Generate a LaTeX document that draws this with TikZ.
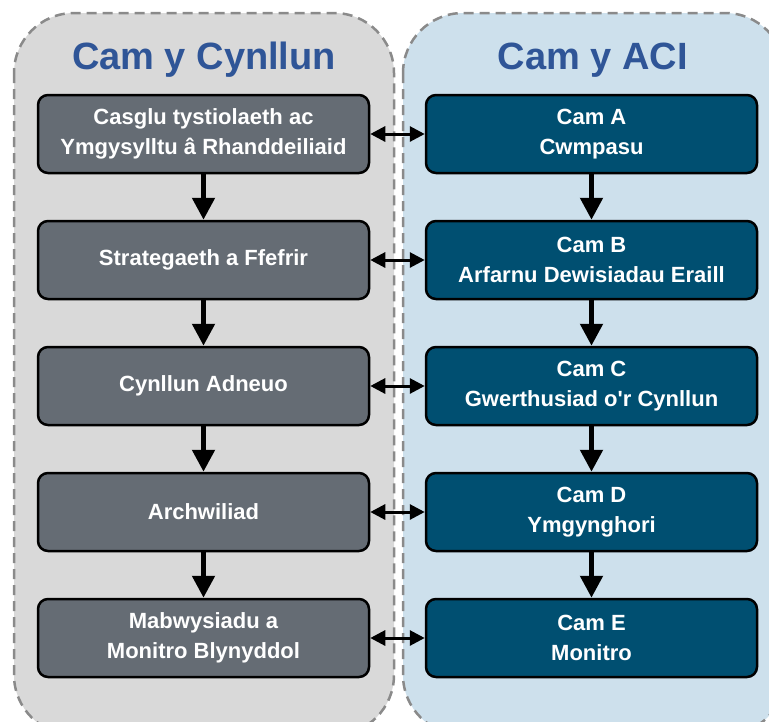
\documentclass[tikz,border=0pt]{standalone}
\usepackage{fontspec}
\setmainfont{Liberation Sans}
\usetikzlibrary{positioning,arrows.meta}
\definecolor{panelgrey}{HTML}{D9D9D9}
\definecolor{panelblue}{HTML}{CDE0EC}
\definecolor{dashgrey}{HTML}{8A8A8A}
\definecolor{planfill}{HTML}{656C74}
\definecolor{acifill}{HTML}{004F71}
\definecolor{titleblue}{HTML}{2F5597}
\tikzset{
  panel/.style={draw=dashgrey,line width=2.5pt,dash pattern=on 10pt off 6pt,rounded corners=60pt},
  planbox/.style={draw=black,line width=2.5pt,fill=planfill,rounded corners=10pt,minimum width=331pt,minimum height=78pt,align=center,text=white,font=\bfseries\fontsize{22}{30}\selectfont},
  acibox/.style={planbox,fill=acifill},
  title/.style={text=titleblue,font=\bfseries\fontsize{38}{42}\selectfont},
  flow/.style={-{Triangle[width=22pt,length=22pt]},line width=5pt},
  link/.style={{Triangle[width=15pt,length=15pt]}-{Triangle[width=15pt,length=15pt]},line width=3pt}
}
\begin{document}
\begin{tikzpicture}[x=1pt,y=-1pt,node distance=45.5pt]
    \clip (0,0) rectangle (769,721);
    %% Panels
    \draw[panel,fill=panelgrey] (14,13) rectangle (394,735);
    \draw[panel,fill=panelblue] (403,13) rectangle (785,735);
    %% Titles
    \node[title] (plantitle) at (204,60) {Cam y Cynllun};
    \node[title] (acititle) at (593,60) {Cam y ACI};
    %% Plan stages
    \node[planbox] (p1) at (203.5,134) {Casglu tystiolaeth ac\\Ymgysylltu â Rhanddeiliaid};
    \node[planbox,below=of p1] (p2) {Strategaeth a Ffefrir};
    \node[planbox,below=of p2] (p3) {Cynllun Adneuo};
    \node[planbox,below=of p3] (p4) {Archwiliad};
    \node[planbox,below=of p4] (p5) {Mabwysiadu a\\Monitro Blynyddol};
    %% ACI stages
    \node[acibox] (a1) at (591.5,134) {Cam A\\Cwmpasu};
    \node[acibox,below=of a1] (a2) {Cam B\\Arfarnu Dewisiadau Eraill};
    \node[acibox,below=of a2] (a3) {Cam C\\Gwerthusiad o\textquotesingle r Cynllun};
    \node[acibox,below=of a3] (a4) {Cam D\\Ymgynghori};
    \node[acibox,below=of a4] (a5) {Cam E\\Monitro};
    %% Arrows
    \foreach \i/\j in {1/2,2/3,3/4,4/5} {
        \draw[flow] (p\i) -- (p\j);
        \draw[flow] (a\i) -- (a\j);
    }
    \foreach \i in {1,...,5}
        \draw[link] (p\i) -- (a\i);
\end{tikzpicture}
\end{document}
